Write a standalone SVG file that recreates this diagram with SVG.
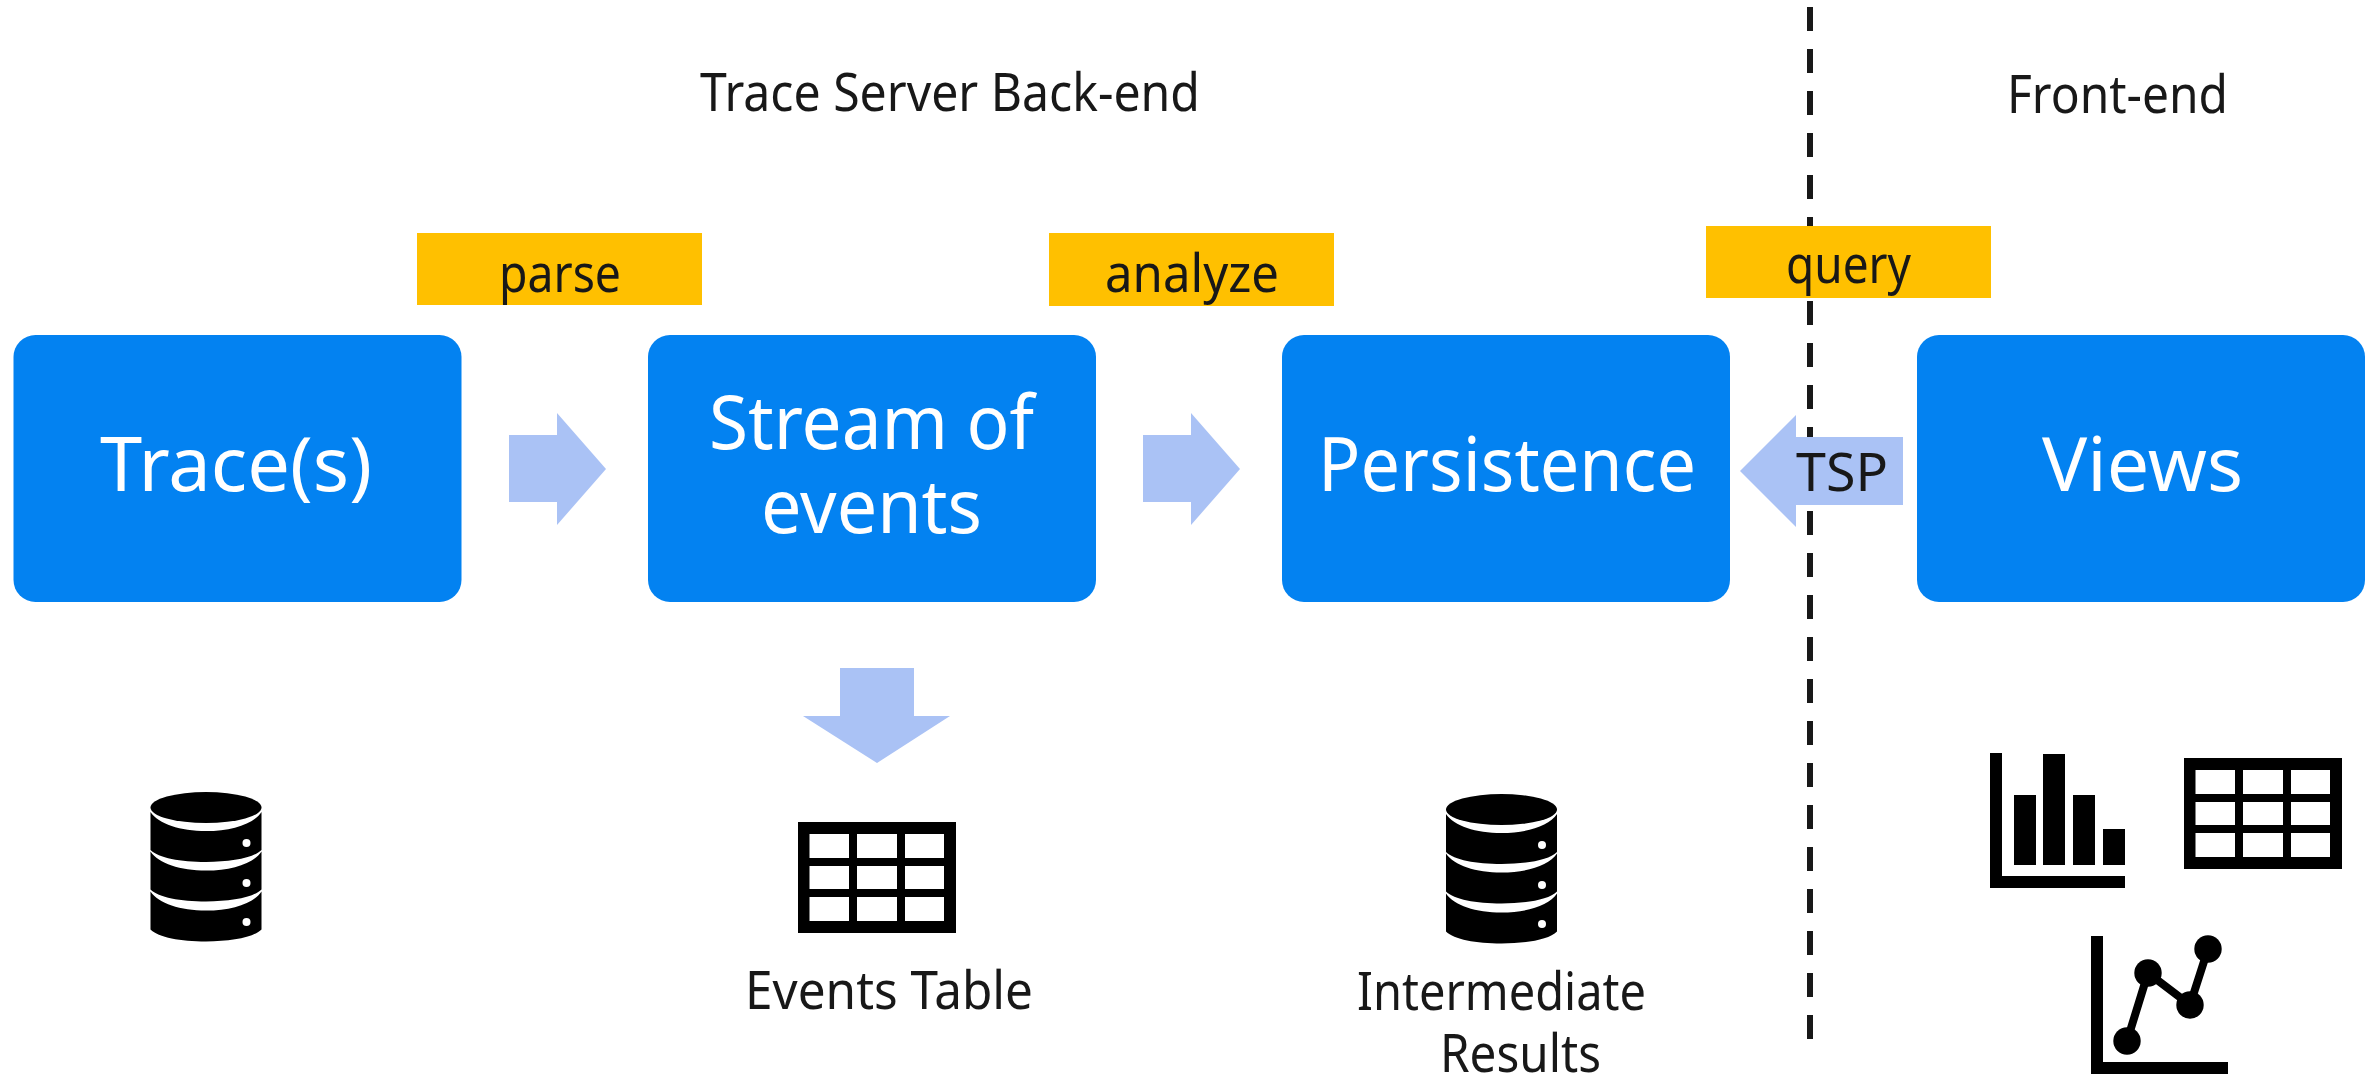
<svg xmlns="http://www.w3.org/2000/svg" xmlns:xlink="http://www.w3.org/1999/xlink" width="2377" height="1074" viewBox="0 0 2377 1074">
<style>
text{font-family:"Noto Sans","Open Sans","DejaVu Sans",sans-serif;fill:#181818}
.box{fill:#0382F1}
.boxt{fill:#fff;font-size:75px}
.tag{fill:#FFC000}
.tagt{font-size:52px}
.lbl{font-size:52px}
.arr{fill:#AAC2F5}
.ico{fill:#000}
.hole{fill:#fff}
.div{stroke:#181818;stroke-width:6;stroke-dasharray:24 18;fill:none}
.plot{stroke:#000;stroke-width:8;fill:none}
</style>
<defs>
<path id="dbseg" class="ico" d="M0 20C8 32 30 39 55.500 39C81 39 103 32 111 20V58C103 66 81 70 55.500 70C30 70 8 66 0 58Z"/>
<g id="db">
<ellipse class="ico" cx="55.500" cy="15.500" rx="55.500" ry="15.500"/>
<use href="#dbseg"/>
<use href="#dbseg" y="39.500"/>
<use href="#dbseg" y="79.500"/>
<circle class="hole" cx="96" cy="51" r="4"/>
<circle class="hole" cx="96" cy="91" r="4"/>
<circle class="hole" cx="96" cy="130" r="4"/>
</g>
<g id="tbl">
<rect class="ico" width="158" height="111"/>
<g class="hole">
<rect x="11.500" y="12" width="39.500" height="24"/><rect x="59" y="12" width="40" height="24"/><rect x="107" y="12" width="39" height="24"/>
<rect x="11.500" y="44" width="39.500" height="23"/><rect x="59" y="44" width="40" height="23"/><rect x="107" y="44" width="39" height="23"/>
<rect x="11.500" y="75" width="39.500" height="24"/><rect x="59" y="75" width="40" height="24"/><rect x="107" y="75" width="39" height="24"/>
</g>
</g>
</defs>
<rect width="2377" height="1074" fill="#fff"/>

<g id="connectors">
<line class="div" x1="1810" y1="7" x2="1810" y2="1039"/>
<polygon class="arr" points="509,435 557,435 557,413 606,469 557,525 557,502 509,502"/>
<polygon class="arr" points="1143,435 1191,435 1191,413 1240,469 1191,525 1191,502 1143,502"/>
<polygon class="arr" points="1903,437 1796,437 1796,415 1740,471 1796,527 1796,505 1903,505"/>
<polygon class="arr" points="840,668 914,668 914,716 950,716 877,763 803,716 840,716"/>
</g>

<g id="header-backend"><text class="lbl" x="700" y="111" textLength="500" lengthAdjust="spacingAndGlyphs">Trace Server Back-end</text></g>
<g id="header-frontend"><text class="lbl" x="2007" y="113" textLength="221" lengthAdjust="spacingAndGlyphs">Front-end</text></g>

<g id="tag-parse"><rect class="tag" x="417" y="233" width="285" height="72"/><text class="tagt" x="499" y="292" textLength="122" lengthAdjust="spacingAndGlyphs">parse</text></g>
<g id="tag-analyze"><rect class="tag" x="1049" y="233" width="285" height="73"/><text class="tagt" x="1105" y="292" textLength="174" lengthAdjust="spacingAndGlyphs">analyze</text></g>
<g id="tag-query"><rect class="tag" x="1706" y="226" width="285" height="72"/><text class="tagt" x="1786" y="283" textLength="125" lengthAdjust="spacingAndGlyphs">query</text></g>

<g id="node-traces"><rect class="box" x="13.500" y="335" width="448" height="267" rx="22"/><text class="boxt" x="100" y="491" textLength="272" lengthAdjust="spacingAndGlyphs">Trace(s)</text></g>
<g id="node-stream"><rect class="box" x="648" y="335" width="448" height="267" rx="22"/><text class="boxt" x="709" y="449" textLength="325" lengthAdjust="spacingAndGlyphs">Stream of</text><text class="boxt" x="761" y="533" textLength="221" lengthAdjust="spacingAndGlyphs">events</text></g>
<g id="node-persistence"><rect class="box" x="1282" y="335" width="448" height="267" rx="22"/><text class="boxt" x="1318" y="491" textLength="378" lengthAdjust="spacingAndGlyphs">Persistence</text></g>
<g id="node-views"><rect class="box" x="1917" y="335" width="448" height="267" rx="22"/><text class="boxt" x="2042" y="491" textLength="201" lengthAdjust="spacingAndGlyphs">Views</text></g>

<g id="label-tsp"><text class="tagt" x="1796" y="491" textLength="92" lengthAdjust="spacingAndGlyphs">TSP</text></g>

<g id="icon-trace-db"><use href="#db" x="150.500" y="792"/></g>
<g id="icon-events-table"><use href="#tbl" x="798" y="822"/><text class="lbl" x="745" y="1009" textLength="288" lengthAdjust="spacingAndGlyphs">Events Table</text></g>
<g id="icon-results-db"><use href="#db" x="1446" y="794"/><text class="lbl" x="1357" y="1010" textLength="289" lengthAdjust="spacingAndGlyphs">Intermediate</text><text class="lbl" x="1440" y="1072" textLength="161" lengthAdjust="spacingAndGlyphs">Results</text></g>

<g id="icon-bar-chart" class="ico">
<rect x="1990" y="753" width="12" height="135"/><rect x="1990" y="876" width="135" height="12"/>
<rect x="2014" y="795" width="22" height="70"/><rect x="2043" y="754" width="22" height="111"/><rect x="2073" y="795" width="22" height="70"/><rect x="2103" y="829" width="22" height="36"/>
</g>
<g id="icon-views-table"><use href="#tbl" x="2184" y="758"/></g>
<g id="icon-line-chart">
<rect class="ico" x="2091" y="936" width="12" height="138"/><rect class="ico" x="2091" y="1062" width="137" height="12"/>
<polyline class="plot" points="2127,1041 2148,973 2190,1005 2208,949"/>
<circle class="ico" cx="2127" cy="1041" r="13.700"/><circle class="ico" cx="2148" cy="973" r="13.700"/><circle class="ico" cx="2190" cy="1005" r="13.700"/><circle class="ico" cx="2208" cy="949" r="13.700"/>
</g>
</svg>
